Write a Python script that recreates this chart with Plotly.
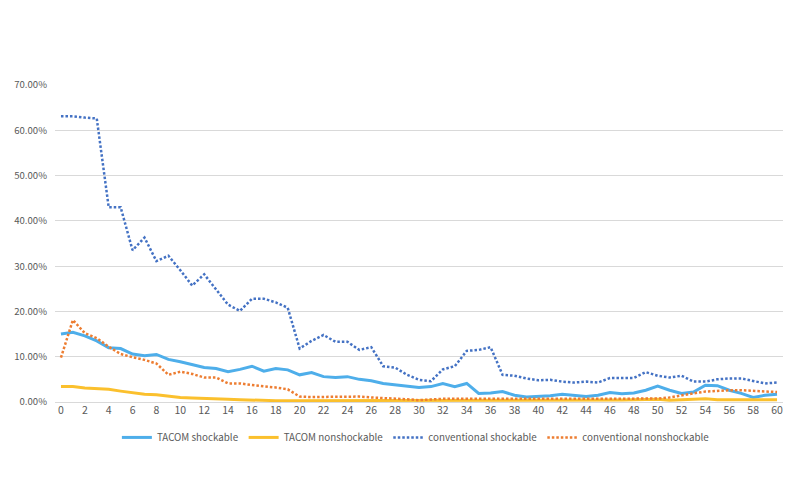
import plotly.graph_objects as go

minutes = list(range(61))

tacom_shockable = [15.0, 15.4, 14.6, 13.5, 12.0, 11.8, 10.6, 10.2, 10.5, 9.4,
                   8.9, 8.2, 7.6, 7.4, 6.7, 7.2, 7.9, 6.8, 7.4, 7.1,
                   6.0, 6.5, 5.6, 5.4, 5.6, 5.0, 4.7, 4.1, 3.8, 3.6,
                   3.2, 3.4, 4.1, 3.4, 4.1, 1.9, 2.0, 2.3, 1.5, 1.1,
                   1.2, 1.4, 1.7, 1.4, 1.2, 1.5, 2.1, 1.8, 2.0, 2.6,
                   3.5, 2.6, 1.9, 2.2, 3.7, 3.6, 2.6, 1.9, 1.0, 1.5, 1.7]

tacom_nonshockable = [3.4, 3.4, 3.1, 2.9, 2.8, 2.4, 2.0, 1.7, 1.6, 1.3,
                      1.0, 0.9, 0.75, 0.65, 0.6, 0.5, 0.4, 0.35, 0.3, 0.3,
                      0.3, 0.3, 0.3, 0.3, 0.3, 0.3, 0.3, 0.3, 0.3, 0.3,
                      0.3, 0.3, 0.3, 0.3, 0.3, 0.3, 0.3, 0.3, 0.3, 0.35,
                      0.4, 0.4, 0.4, 0.4, 0.4, 0.4, 0.45, 0.45, 0.5, 0.5,
                      0.6, 0.4, 0.45, 0.5, 0.7, 0.5, 0.5, 0.5, 0.5, 0.5, 0.5]

conv_shockable = [63.1, 63.1, 62.8, 62.6, 43.0, 43.0, 33.5, 36.3, 31.1, 32.3,
                  29.1, 25.7, 28.2, 24.8, 21.5, 20.1, 22.8, 22.8, 22.0, 20.8,
                  11.8, 13.5, 14.8, 13.3, 13.3, 11.5, 12.1, 7.9, 7.6, 6.0,
                  4.9, 4.6, 7.2, 7.9, 11.3, 11.5, 12.1, 6.0, 5.8, 5.2,
                  4.8, 4.9, 4.5, 4.3, 4.5, 4.3, 5.3, 5.3, 5.3, 6.6,
                  5.8, 5.4, 5.8, 4.5, 4.5, 5.0, 5.2, 5.2, 4.7, 4.1, 4.3]

conv_nonshockable = [9.8, 18.1, 15.2, 14.1, 12.2, 10.6, 9.9, 9.3, 8.5, 6.0,
                     6.7, 6.2, 5.4, 5.4, 4.1, 4.1, 3.75, 3.5, 3.2, 2.8,
                     1.2, 1.1, 1.1, 1.1, 1.2, 1.2, 1.0, 0.9, 0.8, 0.6,
                     0.4, 0.6, 0.7, 0.7, 0.7, 0.7, 0.7, 0.7, 0.7, 0.6,
                     0.6, 0.6, 0.6, 0.6, 0.6, 0.6, 0.6, 0.6, 0.65, 0.7,
                     0.75, 1.0, 1.5, 1.9, 2.3, 2.5, 2.6, 2.6, 2.5, 2.3, 2.2]

x_ticks = list(range(0, 61, 2))
y_ticks = [0, 10, 20, 30, 40, 50, 60, 70]

series = [
    ("TACOM shockable", tacom_shockable, "#4EAEEA", "solid", 3),
    ("TACOM nonshockable", tacom_nonshockable, "#FBC02D", "solid", 3),
    ("conventional shockable", conv_shockable, "#4472C4", "2.5px,2px", 2.5),
    ("conventional nonshockable", conv_nonshockable, "#ED7D31", "2.5px,2px", 2.5),
]

fig = go.Figure()
for name, vals, color, dash, w in series:
    fig.add_trace(go.Scatter(
        x=minutes, y=vals, mode="lines", name=name,
        line=dict(color=color, width=w, dash=dash),
    ))

font_family = "Noto Sans CJK KR, Noto Sans, sans-serif"
fig.update_layout(
    width=792, height=477,
    paper_bgcolor="white", plot_bgcolor="white",
    margin=dict(l=47, r=17, t=77, b=83, autoexpand=False),
    font=dict(family=font_family, size=11, color="#595959"),
    showlegend=True,
    legend=dict(orientation="h", x=0.085, xanchor="left", y=-0.066, yanchor="top",
                font=dict(size=9.8, color="#595959"), itemwidth=30,
                traceorder="normal"),
    xaxis=dict(range=[-0.5, 60.5], tickmode="array", tickvals=x_ticks,
               ticktext=[str(v) for v in x_ticks], showgrid=False,
               zeroline=False, showline=False, ticks="", automargin=False,
               tickfont=dict(size=10.5)),
    yaxis=dict(range=[0, 70], tickmode="array", tickvals=y_ticks,
               ticktext=[f"{v:.2f}%" for v in y_ticks], showgrid=True,
               gridcolor="#D9D9D9", gridwidth=1, zeroline=True,
               zerolinecolor="#D9D9D9", zerolinewidth=1, showline=False,
               ticks="", ticklabelstandoff=7, automargin=False,
               tickfont=dict(size=9.6)),
)

fig.write_html("out.html")
